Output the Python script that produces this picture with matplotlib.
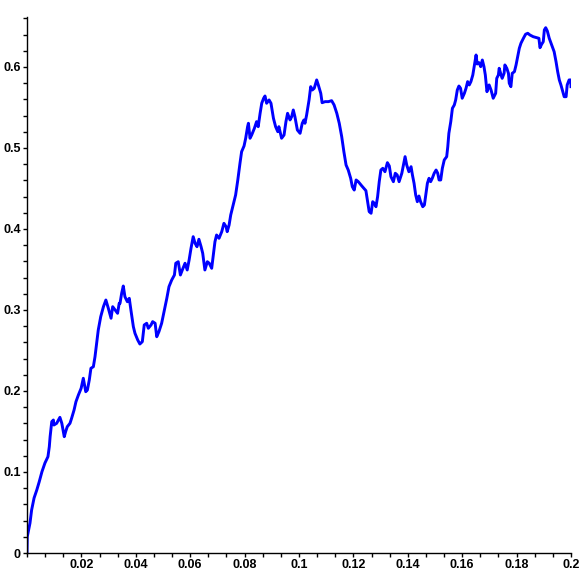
import matplotlib
matplotlib.use("Agg")
import matplotlib.pyplot as plt
from matplotlib.ticker import MultipleLocator, FixedLocator

# Data
t = [0.0, 0.0001, 0.0011, 0.0017, 0.0026, 0.0036, 0.0045, 0.0055, 0.0066, 0.0077,
     0.0082, 0.0085, 0.0091, 0.0097, 0.0099, 0.0109, 0.0121, 0.0128, 0.0137, 0.0142,
     0.0148, 0.0158, 0.0164, 0.0173, 0.0180, 0.0189, 0.0199, 0.0207, 0.0216, 0.0222,
     0.0229, 0.0235, 0.0244, 0.0250, 0.0256, 0.0262, 0.0271, 0.0281, 0.0290, 0.0299,
     0.0309, 0.0315, 0.0324, 0.0333, 0.0339,
     0.0342, 0.0348, 0.0354, 0.0360, 0.0369, 0.0376, 0.0382, 0.0391, 0.0397, 0.0407,
     0.0415, 0.0424, 0.0431, 0.0440, 0.0446, 0.0456, 0.0462, 0.0471, 0.0477, 0.0485,
     0.0495, 0.0505, 0.0514, 0.0522, 0.0532, 0.0542, 0.0547, 0.0556, 0.0564, 0.0571,
     0.0581, 0.0589, 0.0596, 0.0603, 0.0611, 0.0618, 0.0625, 0.0632, 0.0640, 0.0646,
     0.0654, 0.0663, 0.0670, 0.0679, 0.0688, 0.0691,
     0.0697, 0.0706, 0.0716, 0.0724, 0.0732, 0.0736, 0.0743, 0.0749, 0.0758, 0.0767,
     0.0775, 0.0783, 0.0789, 0.0798, 0.0804, 0.0811, 0.0814, 0.0820, 0.0826, 0.0836,
     0.0844, 0.0850, 0.0857, 0.0863, 0.0870, 0.0875, 0.0881, 0.0890, 0.0897, 0.0906,
     0.0914, 0.0922, 0.0926, 0.0936, 0.0945, 0.0952, 0.0958, 0.0967, 0.0973, 0.0979,
     0.0985, 0.0994, 0.1004, 0.1012, 0.1018,
     0.1022, 0.1028, 0.1037, 0.1043, 0.1049, 0.1056, 0.1065, 0.1071, 0.1080, 0.1085,
     0.1096, 0.1108, 0.1120, 0.1129, 0.1139, 0.1148, 0.1157, 0.1165, 0.1173, 0.1181,
     0.1190, 0.1196, 0.1203, 0.1210, 0.1218, 0.1231, 0.1246, 0.1253, 0.1258, 0.1265,
     0.1271, 0.1277, 0.1283, 0.1289, 0.1295, 0.1301, 0.1308, 0.1316, 0.1325, 0.1332,
     0.1338, 0.1347, 0.1354, 0.1361, 0.1368,
     0.1378, 0.1384, 0.1390, 0.1396, 0.1404, 0.1412, 0.1417, 0.1423, 0.1429, 0.1435,
     0.1441, 0.1447, 0.1455, 0.1461, 0.1466, 0.1472, 0.1478, 0.1484, 0.1490, 0.1497,
     0.1504, 0.1510, 0.1515, 0.1521, 0.1527, 0.1534, 0.1543, 0.1547, 0.1551, 0.1558,
     0.1564, 0.1571, 0.1576, 0.1582, 0.1588, 0.1594, 0.1600, 0.1608, 0.1614, 0.1620,
     0.1626, 0.1632, 0.1639, 0.1644, 0.1651, 0.1655, 0.1662, 0.1668, 0.1674, 0.1680,
     0.1685,
     0.1691, 0.1699, 0.1706, 0.1714, 0.1723, 0.1727, 0.1733, 0.1736, 0.1743, 0.1747,
     0.1754, 0.1757, 0.1764, 0.1770, 0.1773, 0.1779, 0.1784, 0.1792, 0.1798, 0.1804,
     0.1810, 0.1816, 0.1825, 0.1833, 0.1841, 0.1849, 0.1861, 0.1874, 0.1882, 0.1886,
     0.1892, 0.1898, 0.1902, 0.1907, 0.1913, 0.1920, 0.1929, 0.1938, 0.1945, 0.1951,
     0.1957, 0.1963, 0.1969, 0.1975, 0.1982, 0.1986, 0.1993, 0.1999, 0.2000]

w = [0.0, 0.0201, 0.0370, 0.0531, 0.0679, 0.0778, 0.0880, 0.1004, 0.1111, 0.1189,
     0.1312, 0.1436, 0.1621, 0.1642, 0.1580, 0.1601, 0.1675, 0.1601, 0.1436, 0.1498,
     0.1559, 0.1601, 0.1663, 0.1765, 0.1868, 0.1951, 0.2033, 0.2157, 0.1991, 0.2012,
     0.2136, 0.2280, 0.2300, 0.2423, 0.2589, 0.2753, 0.2917, 0.3041, 0.3123, 0.3021,
     0.2898, 0.3041, 0.3000, 0.2959, 0.3083,
     0.3083, 0.3206, 0.3296, 0.3164, 0.3102, 0.3144, 0.3000, 0.2794, 0.2712, 0.2630,
     0.2580, 0.2609, 0.2815, 0.2836, 0.2774, 0.2815, 0.2856, 0.2836, 0.2670, 0.2732,
     0.2836, 0.3000, 0.3144, 0.3288, 0.3370, 0.3432, 0.3577, 0.3596, 0.3432, 0.3494,
     0.3577, 0.3494, 0.3617, 0.3762, 0.3905, 0.3823, 0.3781, 0.3873, 0.3781, 0.3700,
     0.3494, 0.3596, 0.3577, 0.3515, 0.3762, 0.3843,
     0.3926, 0.3885, 0.3967, 0.4070, 0.4028, 0.3967, 0.4049, 0.4173, 0.4296, 0.4420,
     0.4605, 0.4811, 0.4954, 0.5025, 0.5120, 0.5263, 0.5305, 0.5120, 0.5160, 0.5243,
     0.5325, 0.5263, 0.5428, 0.5552, 0.5614, 0.5642, 0.5552, 0.5593, 0.5552, 0.5367,
     0.5263, 0.5201, 0.5263, 0.5120, 0.5160, 0.5325, 0.5428, 0.5346, 0.5386, 0.5469,
     0.5386, 0.5222, 0.5181, 0.5305, 0.5346,
     0.5305, 0.5407, 0.5593, 0.5757, 0.5716, 0.5737, 0.5840, 0.5778, 0.5675, 0.5559,
     0.5572, 0.5572, 0.5584, 0.5531, 0.5428, 0.5305, 0.5140, 0.4954, 0.4790, 0.4728,
     0.4626, 0.4522, 0.4481, 0.4605, 0.4584, 0.4531, 0.4473, 0.4317, 0.4214, 0.4194,
     0.4337, 0.4317, 0.4275, 0.4399, 0.4584, 0.4728, 0.4749, 0.4707, 0.4819, 0.4778,
     0.4646, 0.4584, 0.4688, 0.4667, 0.4584,
     0.4688, 0.4790, 0.4893, 0.4790, 0.4707, 0.4769, 0.4667, 0.4564, 0.4420, 0.4337,
     0.4407, 0.4337, 0.4275, 0.4296, 0.4420, 0.4564, 0.4626, 0.4584, 0.4626, 0.4688,
     0.4728, 0.4688, 0.4605, 0.4605, 0.4749, 0.4852, 0.4893, 0.5016, 0.5181, 0.5325,
     0.5490, 0.5531, 0.5593, 0.5716, 0.5765, 0.5737, 0.5614, 0.5675, 0.5737, 0.5819,
     0.5778, 0.5819, 0.5901, 0.6004, 0.6148, 0.6037, 0.6053, 0.6004, 0.6086, 0.6004,
     0.5901,
     0.5695, 0.5778, 0.5716, 0.5614, 0.5675, 0.5860, 0.5901, 0.5984, 0.5901, 0.5860,
     0.5922, 0.6025, 0.5984, 0.5922, 0.5799, 0.5757, 0.5922, 0.5942, 0.6025, 0.6127,
     0.6231, 0.6293, 0.6354, 0.6404, 0.6416, 0.6395, 0.6374, 0.6362, 0.6354, 0.6238,
     0.6280, 0.6312, 0.6457, 0.6485, 0.6444, 0.6354, 0.6272, 0.6189, 0.6065, 0.5942,
     0.5840, 0.5778, 0.5704, 0.5633, 0.5633, 0.5778, 0.5840, 0.5840, 0.5757]

x_ticks = [0.02, 0.04, 0.06, 0.08, 0.1, 0.12, 0.14, 0.16, 0.18, 0.2]
x_labels = ["0.02", "0.04", "0.06", "0.08", "0.1", "0.12", "0.14", "0.16", "0.18", "0.2"]
y_ticks = [0, 0.1, 0.2, 0.3, 0.4, 0.5, 0.6]
y_labels = ["0", "0.1", "0.2", "0.3", "0.4", "0.5", "0.6"]

fig = plt.figure(figsize=(5.84, 5.84), dpi=100)
ax = fig.add_axes([27 / 584, 31 / 584, 544 / 584, 536 / 584])
ax.plot(t, w, color=(0, 0, 1), linewidth=2.1, solid_joinstyle="round")

ax.set_xlim(0, 0.2)
ax.set_ylim(0, 0.6617)

for s in ["top", "right"]:
    ax.spines[s].set_visible(False)
for s in ["left", "bottom"]:
    ax.spines[s].set_linewidth(1.0)
    ax.spines[s].set_color("black")

ax.xaxis.set_major_locator(FixedLocator(x_ticks))
ax.set_xticklabels(x_labels)
ax.yaxis.set_major_locator(FixedLocator(y_ticks))
ax.set_yticklabels(y_labels)
ax.xaxis.set_minor_locator(MultipleLocator(0.02 / 3))
ax.yaxis.set_minor_locator(MultipleLocator(0.02))

ax.tick_params(axis="both", which="major", direction="out", length=3, width=1,
               color="black", pad=1.5)
ax.tick_params(axis="both", which="minor", direction="out", length=3, width=1,
               color="black")
for lab in ax.get_xticklabels() + ax.get_yticklabels():
    lab.set_fontfamily("Liberation Sans")
    lab.set_fontweight("bold")
    lab.set_fontsize(9)

fig.savefig("out.png", dpi=100, facecolor="white")
